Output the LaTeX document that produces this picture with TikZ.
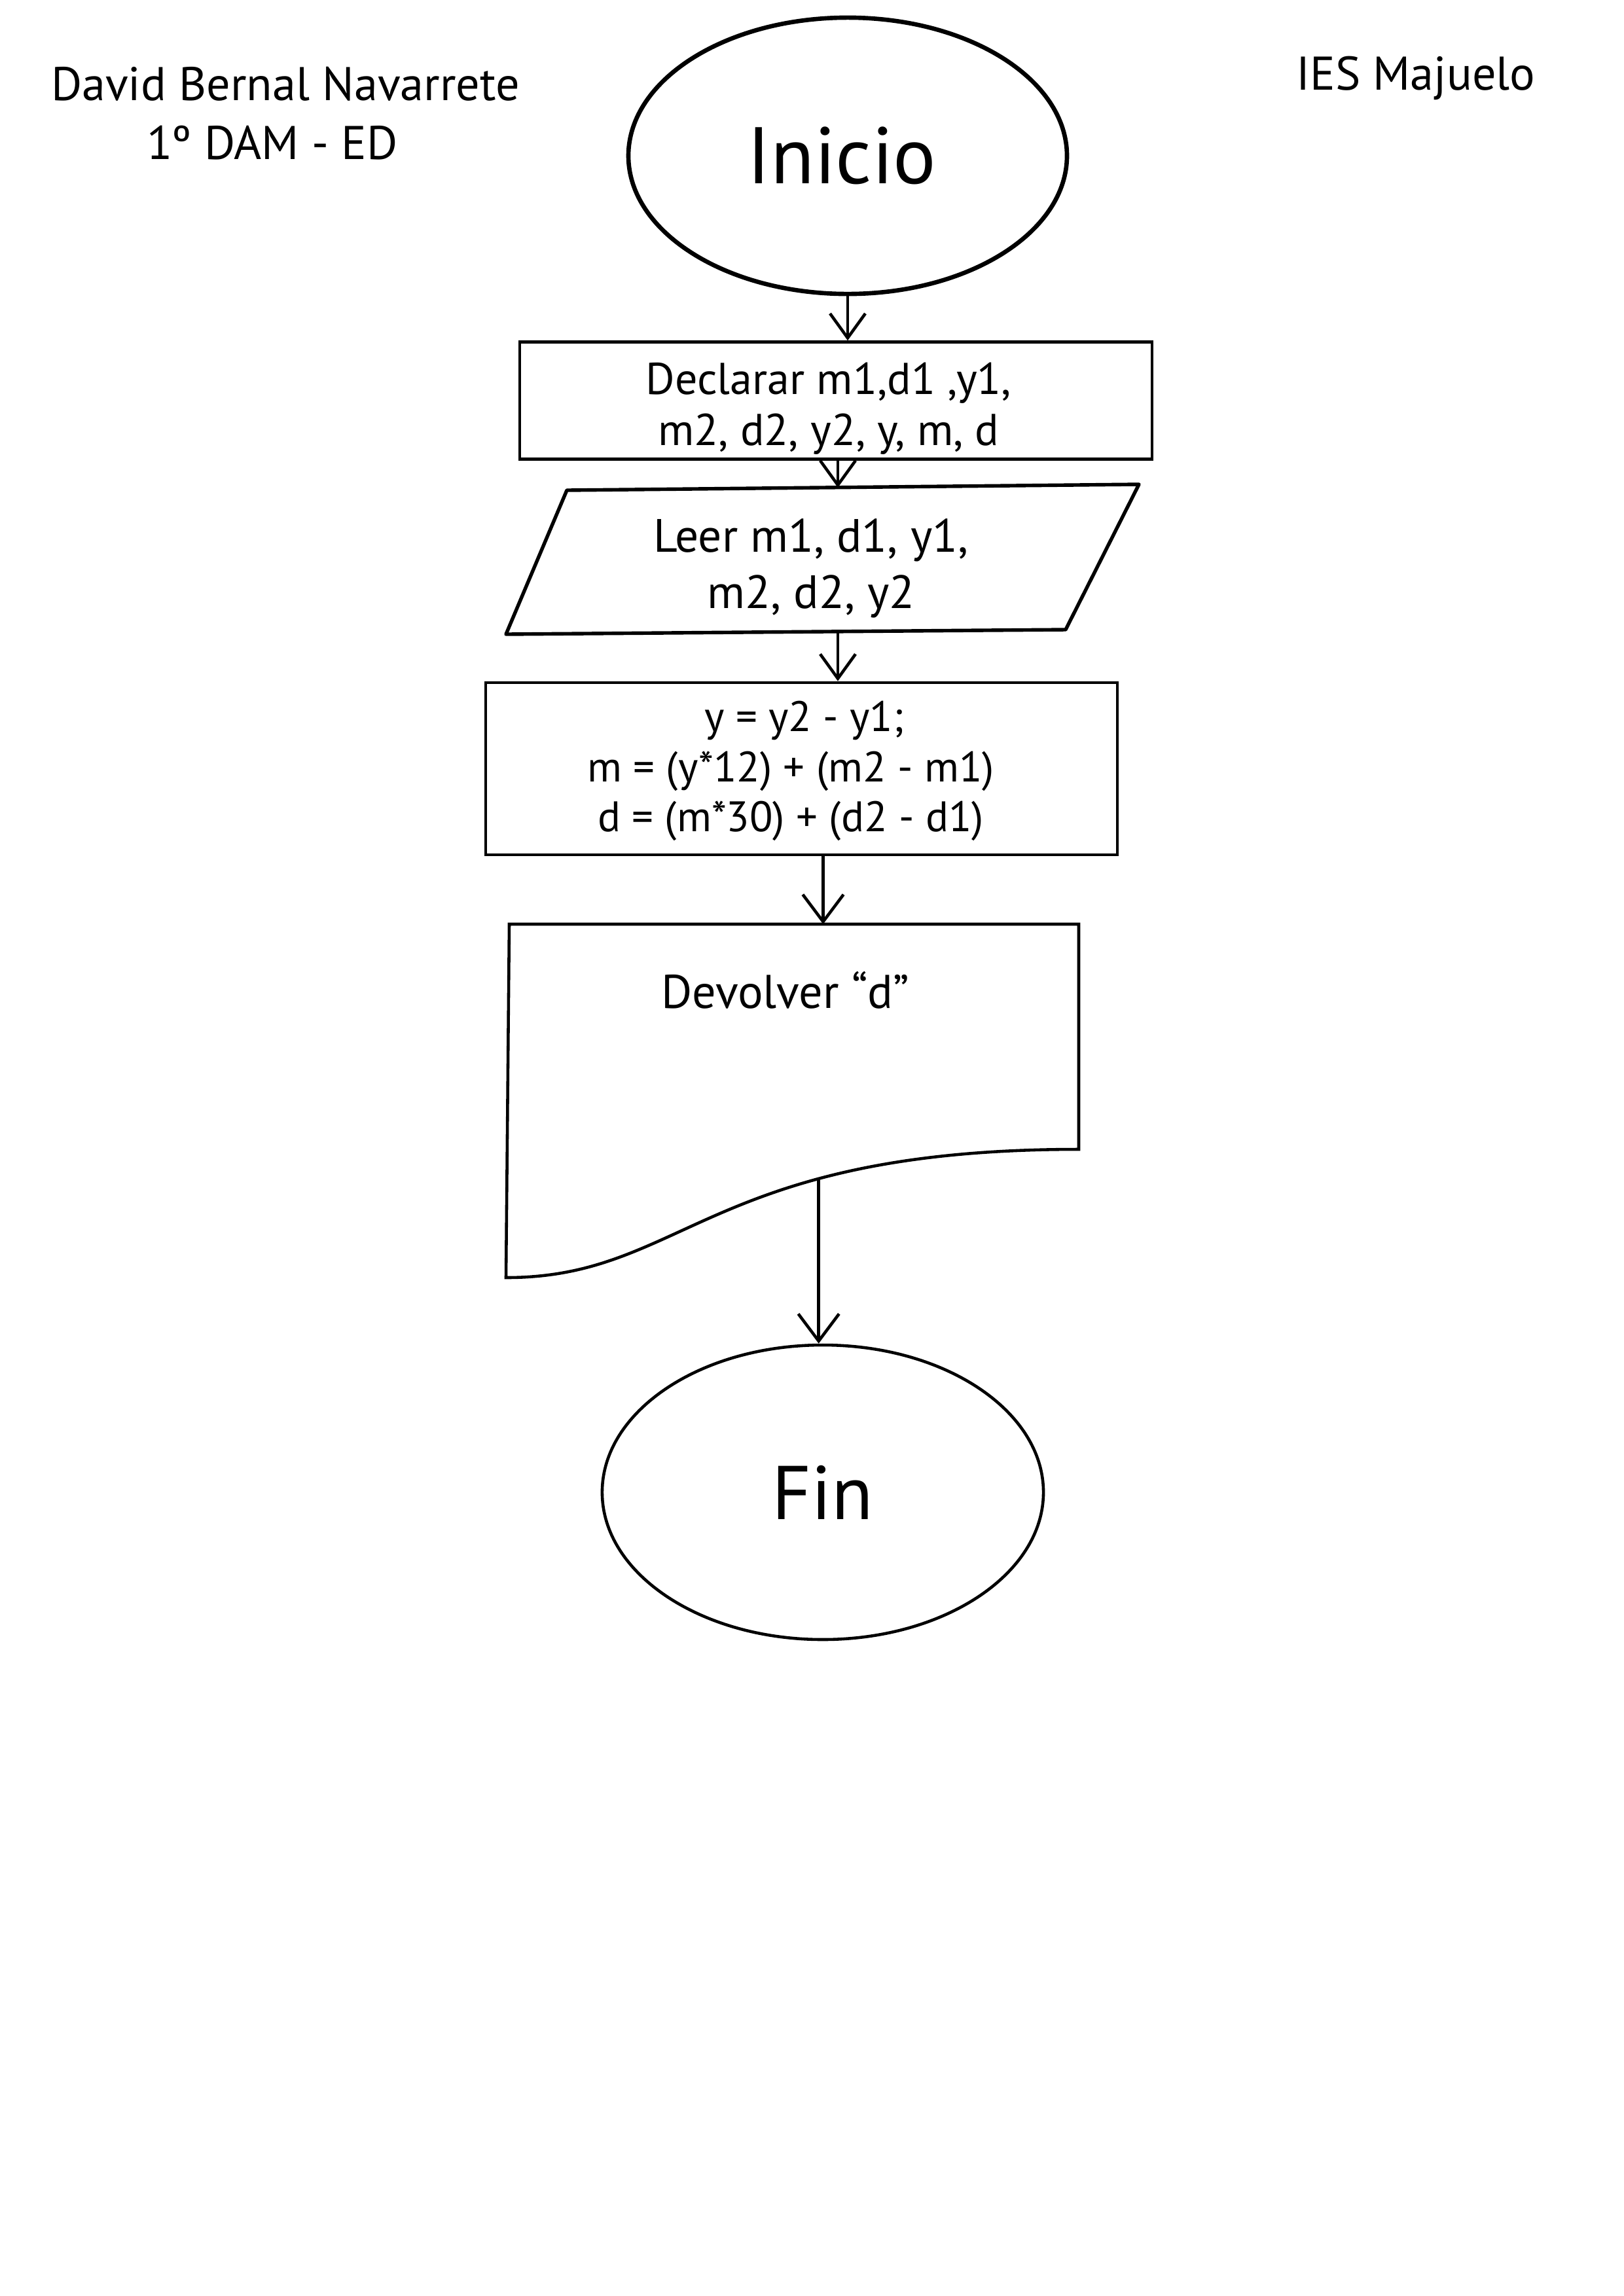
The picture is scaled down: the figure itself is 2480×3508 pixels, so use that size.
\documentclass[tikz,border=0pt]{standalone}
\usepackage{fontspec}
\setmainfont{PT Sans}
\usetikzlibrary{shapes.geometric,arrows.meta,calc}
\begin{document}
\begin{tikzpicture}[x=0.24089pt,y=-0.24089pt,
  line width=1.1pt,
  term/.style={draw,ellipse,inner sep=0pt},
  procbox/.style={draw,rectangle,inner sep=0pt,align=center},
  flow/.style={-{Straight Barb[length=9pt,width=13pt,line width=1.1pt]},line width=1.1pt},
  bigflow/.style={-{Straight Barb[length=10pt,width=15pt,line width=1.1pt]},line width=1.1pt},
  lbl/.style={inner sep=0pt,align=center}
]
\useasboundingbox (0,0) rectangle (2480,3508);

% header texts
\node[lbl,font=\fontsize{17.4}{20}\selectfont] (autor) at (436,128) {David Bernal Navarrete};
\node[lbl,font=\fontsize{17.4}{20}\selectfont] (curso) at (416,218) {1º DAM - ED};
\node[lbl,font=\fontsize{17.4}{20}\selectfont] (ies) at (2163,119) {IES Majuelo};

% Inicio
\node[term,line width=1.6pt,minimum width=161.4pt,minimum height=101.7pt] (inicio) at (1295,238) {};
\node[lbl,font=\fontsize{29.5}{34}\selectfont] (iniciotxt) at (1286,238) {Inicio};

% Declarar
\node[procbox,minimum width=232.7pt,minimum height=43.1pt] (decl) at (1277,612) {};
\node[lbl,font=\fontsize{16.4}{18.8}\selectfont] (decltxt) at (1266,624)
  {Declarar m1,d1 ,y1,\\ m2, d2, y2, y, m, d};

% Leer (parallelogram)
\coordinate (p1) at (866,749);
\coordinate (p2) at (1740,740);
\coordinate (p3) at (1628,962);
\coordinate (p4) at (773,969);
\draw[line width=1.3pt,line join=round] (p1) -- (p2) -- (p3) -- (p4) -- cycle;
\node[lbl,font=\fontsize{17.2}{20.7}\selectfont] (leer) at (1239,868)
  {Leer m1, d1, y1,\\ m2, d2, y2};
\coordinate (leerN) at (1280,745);
\coordinate (leerS) at (1280,966);

% Calculo
\node[procbox,minimum width=232.5pt,minimum height=63.4pt] (calc) at (1224.5,1174.5) {};
\node[lbl,font=\fontsize{15.7}{18.4}\selectfont] (calctxt) at (1208,1178)
  {\hspace*{10pt}y = y2 - y1;\\ m = (y*12) + (m2 - m1)\\ d = (m*30) + (d2 - d1)};

% Documento
\draw (778,1412) coordinate (docNW) -- (1648,1412) coordinate (docNE) -- (1648,1756)
  .. controls (1080,1756) and (1046,1952) .. node[pos=0.31,coordinate] (wave) {} (773,1952) -- cycle;
\node[lbl,font=\fontsize{17.4}{20}\selectfont] (devolver) at (1200,1513) {Devolver “d”};

% Fin
\node[term,minimum width=162.4pt,minimum height=108.4pt,
  font=\fontsize{28}{32}\selectfont] (fin) at (1257,2280) {Fin};

% connectors
\draw[flow] (inicio.south) -- (inicio.south |- decl.north);
\draw[flow] (decl.south) ++(3,0) coordinate (d1) -- (d1 |- leerN);
\draw[flow] (leerS) -- (leerS |- calc.north);
\draw[bigflow] ($(calc.south)+(33,0)$) coordinate (c1) -- (c1 |- docNW);
\draw[bigflow] (wave) -- (wave |- fin.north);
\end{tikzpicture}
\end{document}
